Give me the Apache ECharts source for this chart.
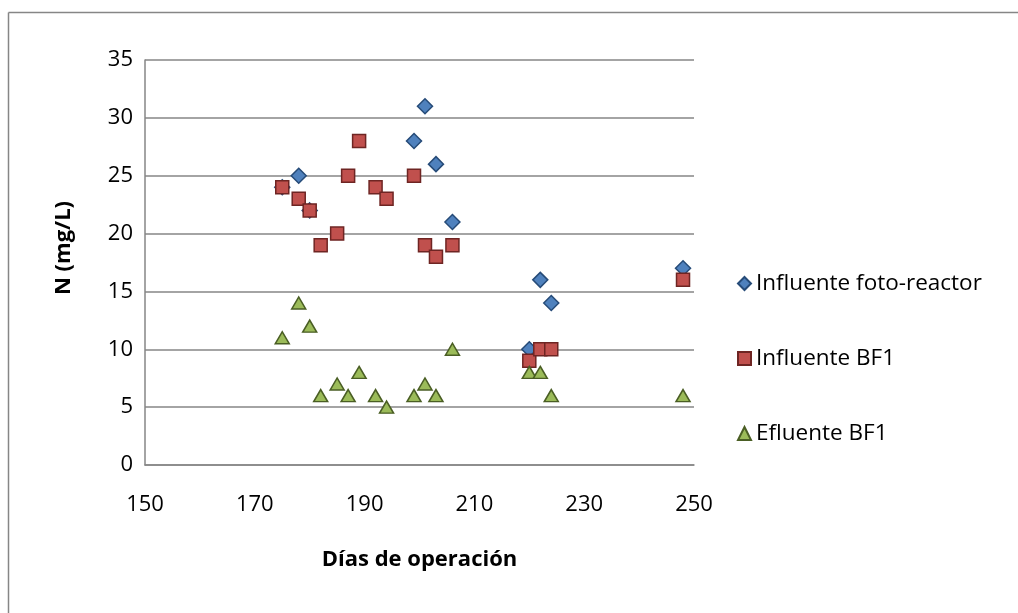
<!DOCTYPE html>
<html>
<head>
<meta charset="utf-8">
<script src="https://cdn.jsdelivr.net/npm/echarts@6/dist/echarts.min.js"></script>
<style>
  html, body { margin: 0; padding: 0; background: #fff; }
  #main { width: 1018px; height: 613px; }
</style>
</head>
<body>
<div id="main"></div>
<script>
// dias de operacion
var diasFoto = [175, 178, 180, 199, 201, 203, 206, 220, 222, 224, 248];
var influenteFoto = [24, 25, 22, 28, 31, 26, 21, 10, 16, 14, 17];

var diasBF1 = [175, 178, 180, 182, 185, 187, 189, 192, 194, 199, 201, 203, 206, 220, 222, 224, 248];
var influenteBF1 = [24, 23, 22, 19, 20, 25, 28, 24, 23, 25, 19, 18, 19, 9, 10, 10, 16];
var efluenteBF1 = [11, 14, 12, 6, 7, 6, 8, 6, 5, 6, 7, 6, 10, 8, 8, 6, 6];

var nombres = ['Influente foto-reactor', 'Influente BF1', 'Efluente BF1'];

function pares(xs, ys){
	var out = [];
	for (var i = 0; i < xs.length; i++) {
		out.push([xs[i], ys[i]]);
	}
	return out;
}

var fuente = '"Open Sans", sans-serif';
var gris = '#868686';

var myChart = echarts.init(document.getElementById('main'));
var option = {
	backgroundColor: '#fff',
	animation: false,
	textStyle: { fontFamily: fuente, color: '#000' },
	grid: { left: 145, top: 60, right: 324, bottom: 148 },
	xAxis: {
		type: 'value',
		min: 150, max: 250, interval: 20,
		name: 'Días de operación',
		nameLocation: 'middle',
		nameGap: 84,
		nameTextStyle: { fontFamily: fuente, fontSize: 22, fontWeight: 'bold', color: '#000' },
		axisLine: { show: true, lineStyle: { color: gris, width: 1.5 } },
		axisTick: { show: false },
		splitLine: { show: false },
		axisLabel: { fontFamily: fuente, fontSize: 22, color: '#000', margin: 29 }
	},
	yAxis: {
		type: 'value',
		min: 0, max: 35, interval: 5,
		axisLine: { show: true, lineStyle: { color: gris, width: 1.5 } },
		axisTick: { show: false },
		splitLine: { lineStyle: { color: gris, width: 1.5 } },
		axisLabel: { fontFamily: fuente, fontSize: 22, color: '#000', margin: 12 }
	},
	legend: {
		orient: 'vertical',
		left: 732,
		top: 267,
		itemGap: 52,
		itemWidth: 13,
		itemHeight: 13,
		textStyle: { fontFamily: fuente, fontSize: 22.5, color: '#000', lineHeight: 23 },
		data: nombres
	},
	graphic: [
		{ type: 'line', shape: { x1: 8.5, y1: 12.5, x2: 1018, y2: 12.5 }, style: { stroke: gris, lineWidth: 1.5 } },
		{ type: 'line', shape: { x1: 8.5, y1: 12.5, x2: 8.5, y2: 613 }, style: { stroke: gris, lineWidth: 1.5 } },
		{
			type: 'text', x: 64, y: 248, rotation: Math.PI / 2,
			style: { text: 'N (mg/L)', font: 'bold 22px "Open Sans", sans-serif', fill: '#000', align: 'center', verticalAlign: 'middle' }
		}
	],
	series: [
		{
			name: nombres[0],
			type: 'scatter',
			symbol: 'diamond',
			symbolSize: 15,
			itemStyle: { color: '#4F81BD', borderColor: '#264B78', borderWidth: 1.5, opacity: 1 },
			data: pares(diasFoto, influenteFoto)
		},
		{
			name: nombres[1],
			type: 'scatter',
			symbol: 'rect',
			symbolSize: 13,
			itemStyle: { color: '#C0504D', borderColor: '#6E2523', borderWidth: 1.5, opacity: 1 },
			data: pares(diasBF1, influenteBF1)
		},
		{
			name: nombres[2],
			type: 'scatter',
			symbol: 'triangle',
			symbolSize: [14, 12],
			itemStyle: { color: '#9BBB59', borderColor: '#4A5E24', borderWidth: 1.5, opacity: 1 },
			data: pares(diasBF1, efluenteBF1)
		}
	]
};
myChart.setOption(option);
</script>
</body>
</html>
